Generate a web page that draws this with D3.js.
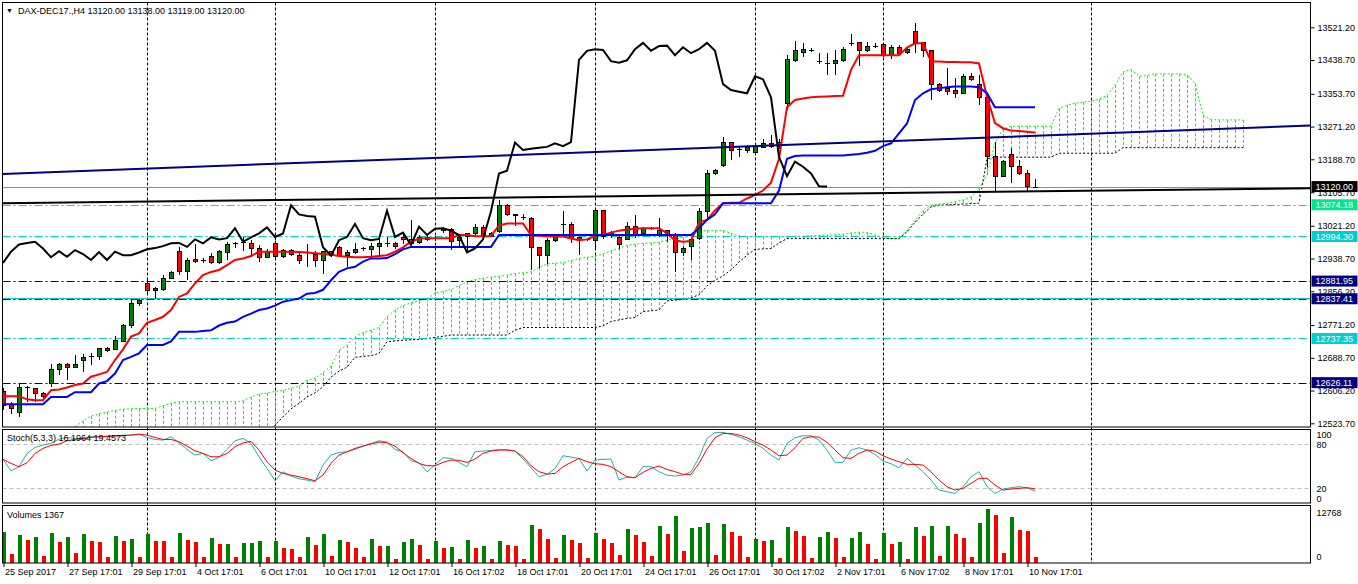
<!DOCTYPE html>
<html>
<head>
<meta charset="utf-8">
<script src="https://cdnjs.cloudflare.com/ajax/libs/d3/7.8.5/d3.min.js"></script>
<style>
body { margin: 0; background: #fff; }
text { font-family: "Liberation Sans", Arial, sans-serif; font-size: 9px; fill: #000; }
</style>
</head>
<body>
<svg id="chart" width="1358" height="584"></svg>
<script>
// DAX-DEC17 H4 candles
const opens = [12603,12571,12551,12614,12611,12599,12624,12659,12672,12664,
 12681,12691,12691,12712,12710,12731,12771,12826,12876,12859,
 12861,12889,12956,12905,12937,12933,12943,12928,12953,12977,
 12979,12977,12964,12942,12977,12943,12960,12947,12953,12949,
 12935,12956,12966,12946,12954,12964,12962,12968,12977,12977,
 12992,12987,12978,12992,12989,13009,13012,12983,12995,13002,
 13017,12994,13008,13073,13050,13044,13040,12967,12946,12983,
 13024,13025,12992,12987,12985,13059,13003,12992,12987,13019,
 13002,13014,12998,13009,12998,12954,12968,12988,13057,13152,
 13172,13231,13214,13210,13205,13219,13229,13222,13330,13437,
 13458,13465,13437,13433,13430,13437,13481,13482,13462,13474,
 13478,13451,13471,13457,13510,13482,13462,13378,13367,13361,
 13355,13398,13378,13345,13195,13146,13200,13170,13153,13120];
const highs = [12612,12578,12624,12617,12613,12603,12673,12676,12676,12695,
 12698,12700,12714,12716,12743,12773,12838,12836,12884,12866,
 12897,12907,12968,12939,12975,12939,12953,12961,12981,12980,
 12992,12985,12973,12963,12982,12964,12964,12952,12975,12957,
 12958,12958,12970,12960,12978,12967,12977,12993,12993,12981,
 12998,13036,12998,12998,12996,13018,13015,12998,13002,13025,
 13022,13005,13086,13075,13052,13051,13044,12968,12990,12995,
 13058,13031,12994,12990,13063,13062,13007,12998,13031,13048,
 13019,13019,13041,13010,13002,12971,12990,13066,13163,13165,
 13245,13233,13220,13225,13225,13241,13250,13240,13451,13487,
 13481,13469,13457,13456,13463,13471,13504,13485,13485,13481,
 13481,13476,13476,13469,13531,13485,13464,13382,13418,13393,
 13403,13406,13401,13351,13233,13186,13216,13187,13162,13138];
const lows = [12557,12548,12540,12578,12578,12586,12614,12645,12632,12662,
 12653,12670,12683,12704,12708,12729,12765,12819,12851,12838,
 12858,12887,12897,12884,12927,12927,12925,12926,12935,12966,
 12958,12943,12930,12940,12941,12939,12945,12926,12918,12918,
 12901,12943,12943,12918,12951,12958,12943,12943,12968,12963,
 12975,12975,12975,12983,12984,13004,12960,12966,12953,12995,
 12990,12992,13002,13045,13020,13036,12910,12914,12926,12980,
 12994,12978,12947,12984,12960,12987,12990,12964,12985,12990,
 12998,13010,12994,12981,12905,12946,12935,12985,13036,13150,
 13170,13187,13195,13205,13204,13216,13216,13215,13313,13434,
 13446,13458,13428,13401,13401,13435,13474,13424,13460,13468,
 13447,13441,13451,13455,13457,13447,13338,13357,13351,13342,
 13353,13387,13325,13170,13107,13143,13128,13148,13107,13119];
const closes = [12569,12561,12614,12615,12599,12592,12659,12672,12664,12673,
 12690,12693,12712,12706,12733,12771,12826,12834,12859,12863,
 12889,12904,12907,12935,12932,12934,12928,12956,12974,12978,
 12981,12964,12942,12957,12943,12960,12950,12935,12955,12935,
 12956,12947,12947,12954,12962,12965,12970,12977,12978,12968,
 12987,12977,12992,12987,12990,13015,12981,12992,13002,13017,
 12993,13002,13073,13050,13046,13044,12967,12946,12985,12993,
 13026,12990,12985,12988,13059,12993,13004,12973,13019,12998,
 13014,13015,13009,12998,12954,12964,12987,13058,13153,13160,
 13231,13212,13215,13218,13220,13229,13222,13232,13439,13462,
 13466,13464,13436,13432,13438,13466,13482,13462,13474,13475,
 13451,13471,13456,13466,13482,13462,13378,13363,13359,13355,
 13398,13390,13345,13195,13146,13183,13170,13153,13121,13120];
const volumes = [7350,2080,6630,5270,6150,1440,7110,4960,6150,2320,
 6870,5200,4960,1200,6390,5200,5680,1200,6870,5200,
 5100,1200,7110,5340,4960,1200,5820,4380,4400,1200,
 4620,4700,5200,1200,5200,3520,3190,1200,6150,4140,
 6870,1440,5340,4960,3520,1200,5680,3900,3950,880,
 4960,5680,4140,880,5200,3430,3670,800,5340,3430,
 3900,800,5100,4140,3900,800,8930,7980,5580,1030,
 6540,5340,4620,1030,7020,5580,4620,1750,7980,6540,
 4860,1510,8690,6780,11090,2710,8210,8450,9410,1750,
 9170,7260,6300,1270,5580,5100,5340,1030,8450,7500,
 6300,1030,6060,7260,5900,1270,5820,7260,4310,800,
 7020,4310,4860,800,8450,6300,8690,1510,8690,6780,
 5820,1270,9410,12768,11330,2230,10850,7740,7500,1367];

// Ichimoku lines as drawn
const tenkan = [12592,12592,12592,12584,12582,12582,12607,12609,12614,12620,
 12624,12641,12647,12653,12683,12710,12742,12750,12777,12784,
 12792,12809,12842,12851,12876,12897,12905,12910,12922,12935,
 12939,12945,12956,12956,12956,12956,12956,12955,12954,12952,
 12950,12948,12945,12943,12942,12942,12943,12945,12947,12956,
 12967,12981,12989,12990,12990,12990,12990,12998,12998,12995,
 12995,12995,13022,13027,13027,13027,12998,12996,12995,12994,
 12994,12989,12985,12987,12996,12999,13004,13009,13012,13014,
 13015,13015,13015,13002,12984,12981,12983,13030,13036,13060,
 13078,13079,13079,13090,13099,13110,13130,13190,13320,13338,
 13342,13345,13346,13347,13348,13349,13414,13451,13451,13451,
 13451,13451,13451,13470,13481,13481,13435,13435,13434,13434,
 13433,13433,13430,13346,13280,13267,13261,13260,13258,13256];
const kijun = [12572,12572,12572,12572,12572,12572,12590,12590,12590,12602,
 12602,12602,12624,12630,12649,12683,12691,12700,12721,12721,
 12721,12730,12754,12754,12754,12756,12758,12770,12777,12780,
 12792,12800,12809,12813,12820,12830,12834,12838,12850,12852,
 12860,12884,12905,12914,12918,12931,12939,12939,12940,12950,
 12962,12968,12968,12968,12968,12968,12968,12968,12968,12968,
 12968,12968,12998,12998,12998,12998,12998,12998,12998,12998,
 12998,12998,12998,12998,12998,12998,12998,12998,12998,12998,
 12998,12998,12998,12998,12998,12998,12998,13015,13036,13050,
 13078,13078,13078,13078,13078,13078,13078,13110,13190,13197,
 13198,13198,13198,13198,13198,13198,13200,13202,13205,13210,
 13222,13229,13254,13279,13338,13355,13365,13368,13370,13372,
 13372,13372,13370,13355,13320,13320,13320,13320,13320,13320];
const spanA = [null,null,null,null,null,null,null,null,null,12515,
 12530,12542,12548,12552,12556,12559,12560,12561,12561,12561,
 12568,12574,12578,12578,12578,12578,12578,12578,12578,12578,
 12580,12590,12597,12600,12604,12607,12612,12617,12632,12637,
 12651,12668,12708,12720,12742,12752,12758,12765,12792,12809,
 12820,12827,12832,12838,12852,12856,12861,12870,12880,12886,
 12889,12892,12894,12897,12901,12903,12905,12916,12925,12927,
 12928,12934,12939,12942,12945,12950,12958,12965,12972,12975,
 12977,12978,12980,12985,12988,12992,12998,13008,13010,13010,
 13010,13002,12996,12994,12994,12994,12994,12994,12994,12995,
 12995,12996,12997,12998,12999,13000,13003,13005,13005,12998,
 12992,12989,12989,13010,13034,13060,13073,13076,13078,13082,
 13086,13094,13115,13150,13230,13265,13272,13272,13272,13272,
 13272,13272,13317,13325,13330,13333,13335,13340,13350,13376,
 13409,13415,13398,13400,13404,13404,13404,13404,13401,13380,
 13300,13289,13288,13288,13288,13288];
const spanB = [null,null,null,null,null,null,null,null,null,12480,
 12480,12480,12480,12480,12480,12480,12480,12480,12480,12480,
 12480,12480,12480,12480,12480,12480,12480,12480,12480,12480,
 12480,12480,12480,12480,12519,12540,12560,12574,12590,12600,
 12616,12640,12655,12665,12690,12692,12694,12700,12729,12731,
 12733,12734,12735,12737,12740,12743,12746,12746,12746,12746,
 12746,12746,12746,12746,12758,12765,12765,12765,12765,12765,
 12765,12765,12765,12765,12765,12769,12780,12784,12788,12790,
 12805,12807,12809,12832,12834,12836,12840,12847,12870,12884,
 12895,12910,12930,12947,12962,12963,12964,12978,12989,12989,
 12989,12989,12989,12989,12989,12989,12989,12989,12989,12989,
 12989,12989,12989,13006,13030,13050,13069,13073,13074,13075,
 13076,13077,13078,13190,13194,13194,13194,13194,13194,13194,
 13194,13194,13204,13204,13204,13204,13204,13204,13204,13204,
 13218,13218,13218,13218,13218,13218,13218,13218,13218,13218,
 13218,13218,13218,13218,13218,13218];

// Stochastic (5,3,3)
const stochK = [59.5,44,49.5,67.6,75.8,79,81.3,87.2,89.5,88,
 86.7,90.4,90.4,91.3,91.3,92.6,92.6,93.5,89.5,86.7,
 85.8,90.4,82.2,73.1,65.4,67.6,57.6,62.2,73.1,84.9,
 88.1,81.3,63.1,47.2,30.4,42.6,36.7,33.1,31.3,29,
 51.7,65.4,69,69.9,73.1,77.6,81.3,84.9,83.1,73.1,
 69.9,57.6,54.9,42.6,51.7,61.8,60.8,55.4,49.5,70,
 70.8,71.8,72.7,72.7,70.8,60,48.1,35.8,39,47.2,
 64.5,62.7,60.8,43.6,58.6,59.5,60,31.3,35.4,34.5,
 49.5,49.5,42.7,38.1,36.8,38.1,42.7,61.8,88.1,96.3,
 96.3,93.6,90.4,85.8,81.3,74.5,65.4,58.6,81.3,89,
 91.8,91.8,85.8,72.2,55.4,55.4,72.2,75.4,72.2,66.3,
 57.2,53.6,48.1,60.8,51.8,42.7,31.3,17.7,15.4,13.1,
 22.2,35.8,42.7,22.2,13.1,19,20.8,22.2,20.8,16.2];
const stochD = [59.5,54,49.5,54.9,67.6,74.5,78.6,80.4,84.9,86.7,
 88.1,89.5,90.4,90.8,91.3,91.7,92.6,94,92.6,89.5,
 86.7,86.7,83.5,77.6,71.3,67.6,63.1,63.1,67.6,76.7,
 82,84,72.2,56.3,44.9,40.4,38.1,35.8,33.1,30.4,
 38.1,54,65.4,69.9,74.5,77.6,80.4,83.1,82.2,77.6,
 68.5,60.8,54,50.8,50.8,55.4,58.6,58.1,55.4,60,
 67.7,70.8,72.2,72.2,70.8,63.1,50.8,42.7,39.5,40.4,
 49.5,55.4,60.8,56.3,53.6,52.7,49.5,42.7,35.8,34.5,
 41.8,47.2,50.4,45.8,42.7,39,39,54,73.6,89,
 94.9,94.9,92.7,89,83.6,79,72.2,64.5,65.4,75.4,
 88.1,90.4,89.9,82.7,72.2,61.8,60.8,67.7,72.2,70.8,
 64.5,60,56.3,52.7,52.7,51.8,42.7,31.3,22.2,17.7,
 20,26.8,33.6,33.6,24.5,17.7,19,20,20.8,19.46];

const xLabels = ["25 Sep 2017","27 Sep 17:01","29 Sep 17:01","4 Oct 17:01","6 Oct 17:01",
 "10 Oct 17:01","12 Oct 17:01","16 Oct 17:02","18 Oct 17:01","20 Oct 17:01","24 Oct 17:01",
 "26 Oct 17:01","30 Oct 17:02","2 Nov 17:01","6 Nov 17:02","8 Nov 17:01","10 Nov 17:01"];
const gridBars = [18, 34, 54, 74, 94, 110, 136];
const priceTicks = [13521.2,13438.7,13353.7,13271.2,13188.7,13105.7,13021.2,12938.7,
 12856.2,12771.2,12688.7,12606.2,12523.7];
const hLevels = [13074.18, 12994.30, 12881.95, 12837.41, 12737.35, 12626.11];
const bidPrice = 13120.00;
const navyTrend = [[0, 13152], [160, 13271]];
const blackTrend = [[0, 13078], [160, 13115]];

const svg = d3.select("#chart");
const LEFT = 2.5, RIGHT = 1310.5;
const MAIN_TOP = 2.5, MAIN_BOT = 427;
const STO_TOP = 429.5, STO_BOT = 503;
const VOL_TOP = 505.5, VOL_BOT = 563;
const GREEN = "#008000", RED = "#ff0000";

const x = d3.scaleLinear().domain([0, 1]).range([3, 11]);
const yP = d3.scaleLinear().domain([12523.7, 13521.2]).range([423.3, 27.3]);
const yS = d3.scaleLinear().domain([0, 100]).range([503, 429.7]);
const yV = d3.scaleLinear().domain([0, 12768]).range([562.5, 509]);

svg.append("rect").attr("width", 1358).attr("height", 584).attr("fill", "#fff");

const defs = svg.append("defs");
[["clipMain", MAIN_TOP, MAIN_BOT], ["clipSto", STO_TOP, STO_BOT], ["clipVol", VOL_TOP, VOL_BOT]]
  .forEach(([id, t, b]) => {
    defs.append("clipPath").attr("id", id).append("rect")
        .attr("x", LEFT).attr("y", t).attr("width", RIGHT - LEFT).attr("height", b - t);
  });

// vertical dashed grid through every panel
svg.append("g").selectAll("line").data(gridBars).join("line")
   .attr("x1", d => x(d) + 0.5).attr("x2", d => x(d) + 0.5)
   .attr("y1", MAIN_TOP).attr("y2", VOL_BOT)
   .attr("stroke", "#000").attr("stroke-dasharray", "3,2");

const main = svg.append("g").attr("clip-path", "url(#clipMain)");

// kumo hatching and span lines
const cloud = d3.range(spanA.length).filter(i => spanA[i] != null);
main.append("g").selectAll("line").data(cloud).join("line")
    .attr("x1", i => x(i) + 0.5).attr("x2", i => x(i) + 0.5)
    .attr("y1", i => yP(spanA[i])).attr("y2", i => yP(spanB[i]))
    .attr("stroke", i => spanA[i] >= spanB[i] ? "#00ff00" : "#808080")
    .attr("stroke-dasharray", "3,2");

const spanLine = arr => d3.line().defined(i => arr[i] != null)
    .x(i => x(i)).y(i => yP(arr[i]))(d3.range(arr.length));
main.append("path").attr("d", spanLine(spanA)).attr("fill", "none")
    .attr("stroke", "#00ff00").attr("stroke-dasharray", "2,2");
main.append("path").attr("d", spanLine(spanB)).attr("fill", "none")
    .attr("stroke", "#000").attr("stroke-dasharray", "2,2");

// horizontal levels
const hColors = ["#00e68c", "#00cdd0", "#000080", "#000080", "#00cdd0", "#000080"];
main.append("line").attr("x1", LEFT).attr("x2", RIGHT)
    .attr("y1", Math.round(yP(12837.41)) - 0.5).attr("y2", Math.round(yP(12837.41)) - 0.5)
    .attr("stroke", "#00cdd0");
main.append("g").selectAll("line").data(hLevels).join("line")
    .attr("x1", LEFT).attr("x2", RIGHT)
    .attr("y1", d => Math.round(yP(d)) + 0.5).attr("y2", d => Math.round(yP(d)) + 0.5)
    .attr("stroke", (d, i) => hColors[i]).attr("stroke-dasharray", "8,3,2,3");
main.append("line").attr("x1", LEFT).attr("x2", RIGHT)
    .attr("y1", Math.round(yP(bidPrice)) + 0.5).attr("y2", Math.round(yP(bidPrice)) + 0.5)
    .attr("stroke", "#8090a0");

// candles
const candles = d3.range(opens.length).map(i => ({ i, o: opens[i], h: highs[i], l: lows[i], c: closes[i] }));
const cg = main.append("g").attr("shape-rendering", "crispEdges");
cg.selectAll("line.wick").data(candles).join("line").attr("class", "wick")
  .attr("x1", d => x(d.i) + 0.5).attr("x2", d => x(d.i) + 0.5)
  .attr("y1", d => yP(d.h)).attr("y2", d => yP(d.l)).attr("stroke", "#000");
const bodies = candles.filter(d => Math.abs(yP(d.o) - yP(d.c)) >= 1.5);
cg.selectAll("rect").data(bodies).join("rect")
  .attr("x", d => x(d.i) - 1.5).attr("width", 4)
  .attr("y", d => Math.min(yP(d.o), yP(d.c)))
  .attr("height", d => Math.abs(yP(d.o) - yP(d.c)))
  .attr("fill", d => d.c > d.o ? GREEN : RED).attr("stroke", "#000");
cg.selectAll("line.doji").data(candles.filter(d => Math.abs(yP(d.o) - yP(d.c)) < 1.5)).join("line")
  .attr("class", "doji")
  .attr("x1", d => x(d.i) - 2).attr("x2", d => x(d.i) + 3)
  .attr("y1", d => Math.round(yP(d.c)) + 0.5).attr("y2", d => Math.round(yP(d.c)) + 0.5)
  .attr("stroke", "#000");

// tenkan, kijun, chikou
const barLine = d3.line().x((d, i) => x(i)).y(d => yP(d));
main.append("path").attr("d", barLine(tenkan)).attr("fill", "none")
    .attr("stroke", "#ff0000").attr("stroke-width", 2);
main.append("path").attr("d", barLine(kijun)).attr("fill", "none")
    .attr("stroke", "#0000ff").attr("stroke-width", 2);
main.append("path").attr("d", barLine(closes.slice(26)))
    .attr("fill", "none").attr("stroke", "#000").attr("stroke-width", 2);

// trend lines extended across the panel
const trend = (pts, color) => {
  const slope = (pts[1][1] - pts[0][1]) / (pts[1][0] - pts[0][0]);
  const i0 = x.invert(LEFT), i1 = x.invert(RIGHT);
  main.append("line")
      .attr("x1", LEFT).attr("y1", yP(pts[0][1] + slope * (i0 - pts[0][0])))
      .attr("x2", RIGHT).attr("y2", yP(pts[0][1] + slope * (i1 - pts[0][0])))
      .attr("stroke", color).attr("stroke-width", 2);
};
trend(navyTrend, "#000080");
trend(blackTrend, "#000");

// stochastic
const sto = svg.append("g").attr("clip-path", "url(#clipSto)");
[20, 80].forEach(v => {
  sto.append("line").attr("x1", LEFT).attr("x2", RIGHT)
     .attr("y1", Math.round(yS(v)) + 0.5).attr("y2", Math.round(yS(v)) + 0.5)
     .attr("stroke", "#c0c0c0").attr("stroke-dasharray", "4,3");
});
const stoLine = d3.line().x((d, i) => x(i)).y(d => yS(d));
sto.append("path").attr("d", stoLine(stochK)).attr("fill", "none").attr("stroke", "#20b2aa");
sto.append("path").attr("d", stoLine(stochD)).attr("fill", "none").attr("stroke", "#ff0000");

// volumes
const vol = svg.append("g").attr("clip-path", "url(#clipVol)").attr("shape-rendering", "crispEdges");
vol.selectAll("rect").data(volumes).join("rect")
   .attr("x", (d, i) => x(i) - 1).attr("width", 4)
   .attr("y", d => yV(d)).attr("height", d => yV(0) - yV(d))
   .attr("fill", (d, i) => i === 0 || d > volumes[i - 1] ? GREEN : RED);

// panel borders
[[MAIN_TOP, MAIN_BOT], [STO_TOP, STO_BOT], [VOL_TOP, VOL_BOT]].forEach(([t, b]) => {
  svg.append("rect").attr("x", LEFT).attr("y", t).attr("width", RIGHT - LEFT).attr("height", b - t)
     .attr("fill", "none").attr("stroke", "#000");
});

// price axis
const pAxis = svg.append("g").attr("transform", `translate(${RIGHT},0)`)
   .call(d3.axisRight(yP).tickValues(priceTicks).tickSize(4).tickPadding(3).tickFormat(d3.format(".2f")));
pAxis.select(".domain").remove();
pAxis.selectAll("text").style("font-family", "Liberation Sans, Arial").style("font-size", "9px");

// price labels in boxes
const boxes = [{ v: bidPrice, bg: "#000" }].concat(hLevels.map((v, i) => ({ v, bg: hColors[i] })));
const bg = svg.append("g");
boxes.forEach(b => {
  const cy = yP(b.v);
  bg.append("rect").attr("x", RIGHT + 1).attr("y", cy - 5.5).attr("width", 46).attr("height", 11).attr("fill", b.bg);
  bg.append("text").attr("x", RIGHT + 5).attr("y", cy).attr("dy", "0.35em")
    .style("fill", "#fff").text(d3.format(".2f")(b.v));
});

// stoch axis
const sAxis = svg.append("g").attr("transform", `translate(${RIGHT},0)`)
   .call(d3.axisRight(yS).tickValues([0, 20, 80, 100]).tickSize(0).tickPadding(6));
sAxis.select(".domain").remove();
sAxis.selectAll("text").attr("dy", d => d === 100 ? "0.9em" : d === 0 ? "-0.2em" : "0.35em")
     .style("font-size", "9px").style("font-family", "Liberation Sans, Arial");

// volume axis
const vAxis = svg.append("g").attr("transform", `translate(${RIGHT},0)`)
   .call(d3.axisRight(yV).tickValues([0, 12768]).tickSize(0).tickPadding(6).tickFormat(d3.format("d")));
vAxis.select(".domain").remove();
vAxis.selectAll("text").attr("dy", d => d === 0 ? "-0.3em" : "0.75em")
     .style("font-size", "9px").style("font-family", "Liberation Sans, Arial");

// time axis
const tAxis = svg.append("g").attr("transform", `translate(0,${VOL_BOT})`)
   .call(d3.axisBottom(x).tickValues(d3.range(0, 129, 8)).tickSize(4).tickFormat((d, i) => xLabels[i]));
tAxis.select(".domain").remove();
tAxis.selectAll(".tick line").attr("transform", "translate(0.5,0)");
tAxis.selectAll("text").attr("text-anchor", "start").attr("x", 1.5).attr("y", 6)
     .style("font-size", "9px").style("font-family", "Liberation Sans, Arial");

// titles
svg.append("text").attr("x", 6).attr("y", 13).style("font-size", "7px").text("\u25BC");
svg.append("text").attr("x", 18).attr("y", 13.5).text("DAX-DEC17.,H4  13120.00 13138.00 13119.00 13120.00");
svg.append("text").attr("x", 7).attr("y", 440.5).text("Stoch(5,3,3) 16.1964 19.4573");
svg.append("text").attr("x", 7).attr("y", 518).text("Volumes 1367");
</script>
</body>
</html>
